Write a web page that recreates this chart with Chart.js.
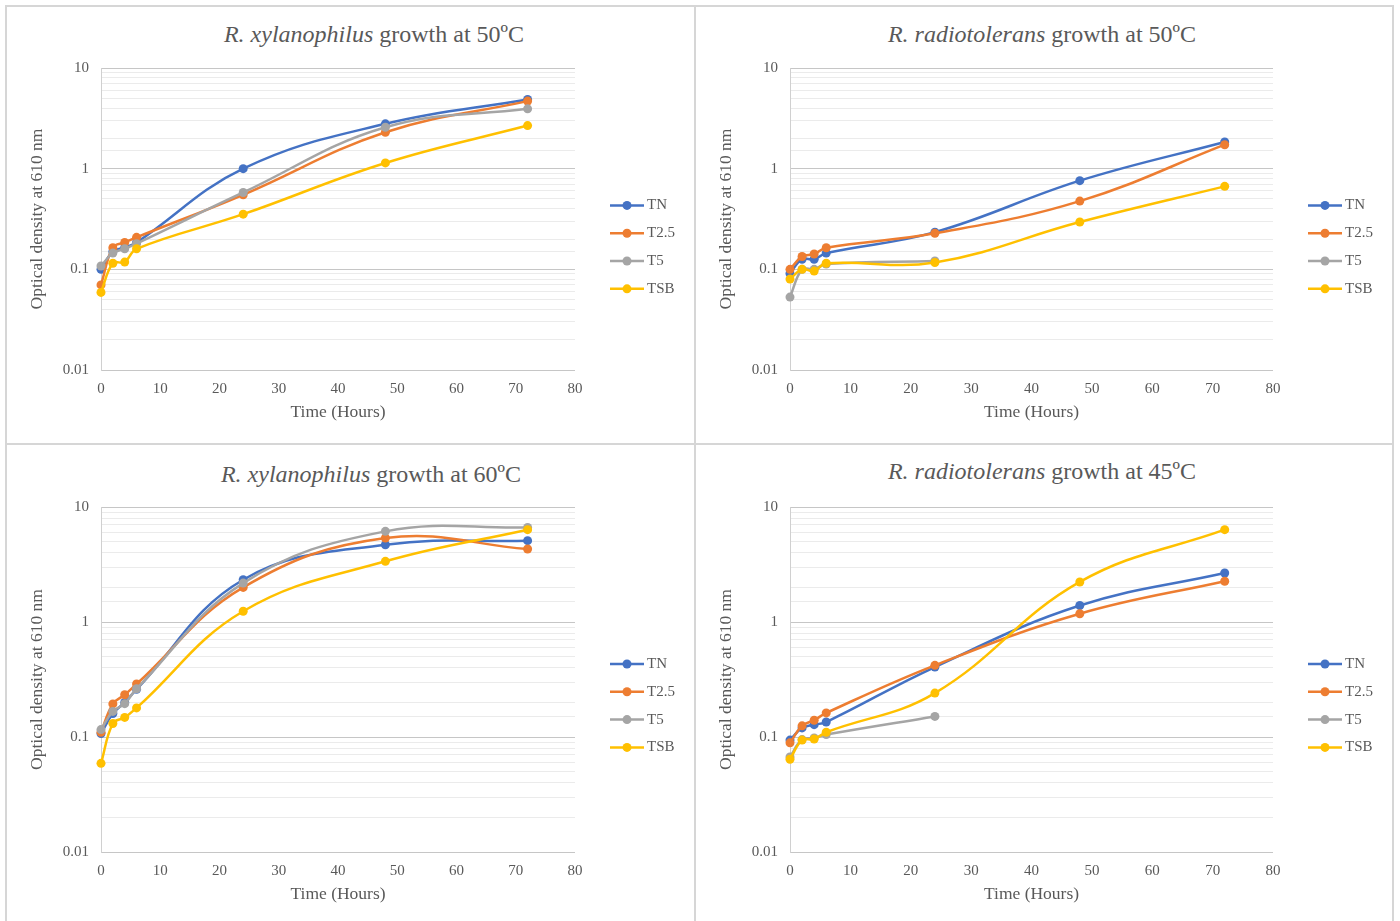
<!DOCTYPE html>
<html>
<head>
<meta charset="utf-8">
<script src="https://cdn.jsdelivr.net/npm/chart.js@4"></script>
<style>
  body { margin: 0; background: #fff; width: 1400px; height: 921px; overflow: hidden; position: relative; font-family: "Liberation Serif", serif; }
  .frame { position: absolute; left: 5px; top: 5px; width: 1389px; height: 1000px; border: 2px solid #d6d6d6; box-sizing: border-box; }
  .vline { position: absolute; left: 694px; top: 5px; width: 2px; height: 1000px; background: #d6d6d6; }
  .hline { position: absolute; left: 5px; top: 443px; width: 1389px; height: 2px; background: #d6d6d6; }
  canvas { position: absolute; }
  .title { position: absolute; width: 600px; text-align: center; font-size: 24px; line-height: 26px; color: #595959; white-space: nowrap; }
</style>
</head>
<body>
<div class="frame"></div>
<div class="vline"></div>
<div class="hline"></div>

<div class="title" style="left:74px;top:21px"><i>R. xylanophilus</i> growth at 50ºC</div>
<div class="title" style="left:742px;top:21px"><i>R. radiotolerans</i> growth at 50ºC</div>
<div class="title" style="left:71px;top:461px"><i>R. xylanophilus</i> growth at 60ºC</div>
<div class="title" style="left:742px;top:458px"><i>R. radiotolerans</i> growth at 45ºC</div>

<canvas id="c1" width="688" height="436" style="left:7px;top:7px"></canvas>
<canvas id="c2" width="697" height="436" style="left:696px;top:7px"></canvas>
<canvas id="c3" width="688" height="480" style="left:7px;top:445px"></canvas>
<canvas id="c4" width="697" height="480" style="left:696px;top:445px"></canvas>

<script>
/**=================
 * Data
 =================*/
const hours = [0, 2, 4, 6, 24, 48, 72];
const seriesNames = ['TN', 'T2.5', 'T5', 'TSB'];
const seriesColors = ['#4472C4', '#ED7D31', '#A5A5A5', '#FFC000'];
const yTickLabels = ['0.01', '0.1', '1', '10'];

// R. xylanophilus, 50ºC
const xyl50TN   = [0.1, 0.15, 0.165, 0.185, 1.0, 2.79, 4.87];
const xyl50T25  = [0.07, 0.164, 0.185, 0.208, 0.55, 2.3, 4.69];
const xyl50T5   = [0.108, 0.145, 0.16, 0.18, 0.58, 2.58, 3.93];
const xyl50TSB  = [0.059, 0.115, 0.118, 0.16, 0.353, 1.14, 2.68];

// R. radiotolerans, 50ºC
const rad50TN   = [0.091, 0.126, 0.126, 0.145, 0.234, 0.76, 1.84];
const rad50T25  = [0.1, 0.134, 0.142, 0.164, 0.228, 0.476, 1.73];
const rad50T5   = [0.053, 0.1, 0.1, 0.113, 0.121, null, null];
const rad50TSB  = [0.08, 0.1, 0.096, 0.115, 0.117, 0.295, 0.667];

// R. xylanophilus, 60ºC
const xyl60TN   = [0.107, 0.16, 0.2, 0.26, 2.33, 4.7, 5.1];
const xyl60T25  = [0.11, 0.194, 0.233, 0.289, 2.0, 5.37, 4.31];
const xyl60T5   = [0.116, 0.167, 0.195, 0.263, 2.18, 6.14, 6.65];
const xyl60TSB  = [0.059, 0.131, 0.148, 0.179, 1.24, 3.37, 6.35];

// R. radiotolerans, 45ºC
const rad45TN   = [0.094, 0.12, 0.128, 0.135, 0.406, 1.39, 2.67];
const rad45T25  = [0.089, 0.125, 0.14, 0.162, 0.42, 1.18, 2.26];
const rad45T5   = [0.067, 0.095, 0.098, 0.105, 0.151, null, null];
const rad45TSB  = [0.064, 0.094, 0.096, 0.11, 0.241, 2.23, 6.35];

/**=================
 * Helpers
 =================*/
const FONT = '"Liberation Serif", "Times New Roman", serif';
const TEXT = '#595959';

function decadeIndex(v) {
    const e = Math.log10(v);
    return Math.abs(e - Math.round(e)) < 1e-6 ? Math.round(e) + 2 : -1;
}

// legend on the right: line + dot, like the spreadsheet one
const sideLegend = {
    id: 'sideLegend',
    afterDraw(chart) {
        const { ctx, chartArea } = chart;
        const top = chartArea.top + (chartArea.bottom - chartArea.top) * 0.455;
        const x0 = chartArea.right + 35;
        chart.data.datasets.forEach((ds, i) => {
            const y = top + i * 27.8;
            ctx.save();
            ctx.strokeStyle = ds.borderColor;
            ctx.lineWidth = 2.5;
            ctx.beginPath();
            ctx.moveTo(x0, y);
            ctx.lineTo(x0 + 34, y);
            ctx.stroke();
            ctx.fillStyle = ds.borderColor;
            ctx.beginPath();
            ctx.arc(x0 + 17, y, 4.5, 0, Math.PI * 2);
            ctx.fill();
            ctx.fillStyle = TEXT;
            ctx.font = '15px ' + FONT;
            ctx.textBaseline = 'middle';
            ctx.fillText(ds.label, x0 + 37, y);
            ctx.restore();
        });
    }
};

function makeChart(id, padTop, series) {
    return new Chart(document.getElementById(id), {
        type: 'line',
        data: {
            datasets: series.map((values, i) => ({
                label: seriesNames[i],
                data: hours.map((h, j) => ({ x: h, y: values[j] })).filter(p => p.y !== null),
                borderColor: seriesColors[i],
                backgroundColor: seriesColors[i],
                borderWidth: 2.5,
                pointRadius: 4.5,
                pointBorderWidth: 0,
                tension: 0.4,
                clip: false,
                order: series.length - 1 - i
            }))
        },
        options: {
            responsive: false,
            animation: false,
            layout: { padding: { top: padTop, right: 120, left: 0, bottom: 0 } },
            plugins: { legend: { display: false }, tooltip: { enabled: false } },
            scales: {
                x: {
                    type: 'linear',
                    min: 0,
                    max: 80,
                    ticks: { stepSize: 10, padding: 10, color: TEXT, font: { family: FONT, size: 15 } },
                    grid: { display: false, drawTicks: false },
                    border: { display: false },
                    title: {
                        display: true, text: 'Time (Hours)', color: TEXT,
                        font: { family: FONT, size: 17.5 }, padding: { top: 0, bottom: 20 }
                    },
                    afterFit: s => { s.height = 73; s.paddingLeft = 0; s.paddingRight = 0; }
                },
                y: {
                    type: 'logarithmic',
                    min: 0.01,
                    max: 10,
                    ticks: {
                        autoSkip: false, padding: 12, color: TEXT,
                        font: { family: FONT, size: 15 },
                        callback: v => {
                            const k = decadeIndex(v);
                            return k >= 0 ? yTickLabels[k] : '';
                        }
                    },
                    grid: {
                        drawTicks: false,
                        color: c => decadeIndex(c.tick.value) >= 0 ? '#c6c6c6' : '#ebebeb'
                    },
                    border: { display: true, color: '#d0d0d0' },
                    title: {
                        display: true, text: 'Optical density at 610 nm', color: TEXT,
                        font: { family: FONT, size: 17.5 }, padding: { top: 20, bottom: 0 }
                    },
                    afterFit: s => { s.width = 94; s.paddingTop = 0; s.paddingBottom = 0; }
                }
            }
        },
        plugins: [sideLegend]
    });
}

makeChart('c1', 61, [xyl50TN, xyl50T25, xyl50T5, xyl50TSB]);
makeChart('c2', 61, [rad50TN, rad50T25, rad50T5, rad50TSB]);
makeChart('c3', 62, [xyl60TN, xyl60T25, xyl60T5, xyl60TSB]);
makeChart('c4', 62, [rad45TN, rad45T25, rad45T5, rad45TSB]);
</script>
</body>
</html>
